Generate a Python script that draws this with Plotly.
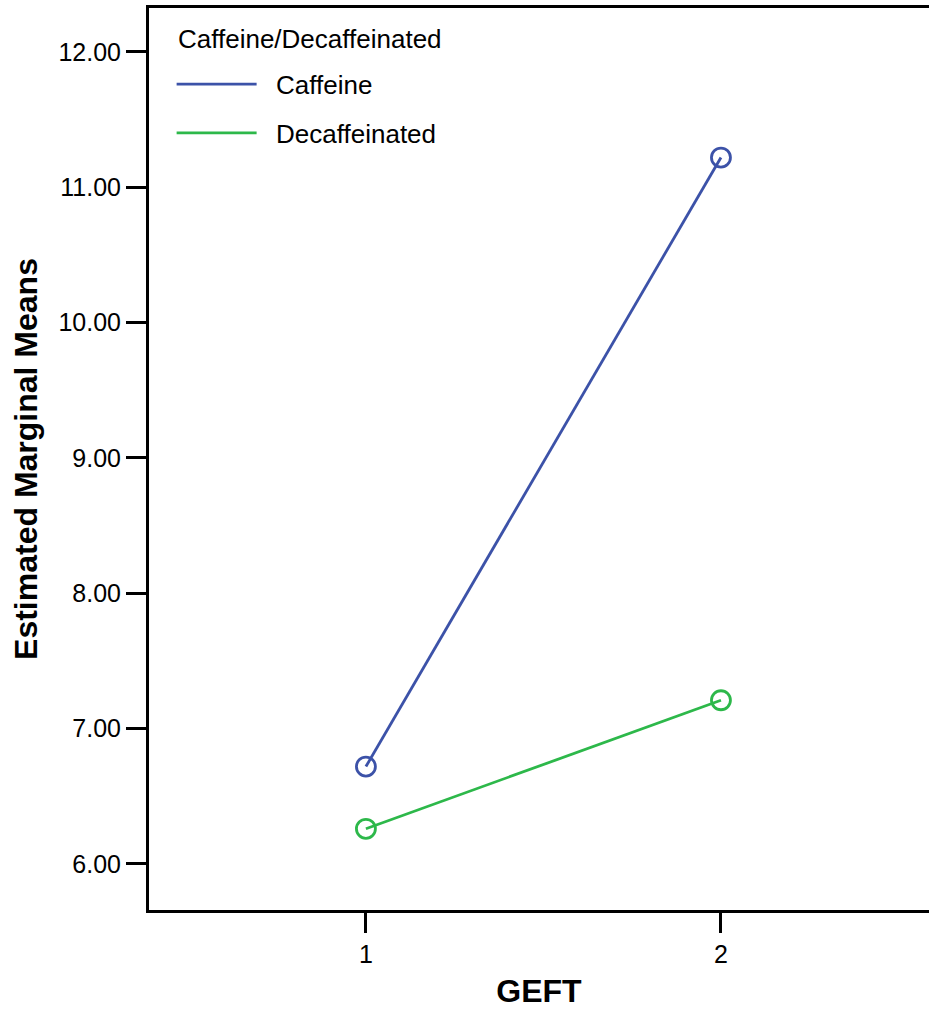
import plotly.graph_objects as go

geft = [1, 2]
caffeine = [6.72, 11.22]
decaf = [6.26, 7.21]
series_names = ["Caffeine", "Decaffeinated"]
legend_title = "Caffeine/Decaffeinated"
colors = ["#3c52a8", "#2db84a"]
y_ticks = [6, 7, 8, 9, 10, 11, 12]
y_tick_labels = ["6.00", "7.00", "8.00", "9.00", "10.00", "11.00", "12.00"]

fig = go.Figure()
for name, vals, col in zip(series_names, [caffeine, decaf], colors):
    fig.add_trace(go.Scatter(x=geft, y=vals, mode="lines", name="\u00a0\u00a0" + name,
                             legendgroup=name, line=dict(color=col, width=2.8)))
    fig.add_trace(go.Scatter(x=geft, y=vals, mode="markers", name=name, showlegend=False,
                             legendgroup=name,
                             marker=dict(symbol="circle-open", size=19, color=col,
                                         line=dict(width=2.8, color=col))))

font_family = "Liberation Sans, Arial, sans-serif"
fig.update_layout(
    width=929, height=1009,
    margin=dict(l=149, r=0, t=8, b=99),
    paper_bgcolor="white", plot_bgcolor="white",
    font=dict(family=font_family, color="black", size=25),
    showlegend=True,
    legend=dict(x=0.029, y=0.9416, xanchor="left", yanchor="top",
                font=dict(size=26), bgcolor="rgba(0,0,0,0)",
                itemwidth=80, tracegroupgap=12),
    annotations=[dict(text=legend_title, xref="paper", yref="paper", x=0.0346, y=0.9659,
                      xanchor="left", yanchor="middle", showarrow=False,
                      font=dict(size=26))],
    xaxis=dict(range=[0.389, 2.586], tickvals=geft, ticktext=["1", "2"],
               showgrid=False, zeroline=False, showline=True, linecolor="black",
               linewidth=3, mirror=True, ticks="outside", ticklen=20, tickwidth=3,
               tickcolor="black", tickfont=dict(size=25),
               title=dict(text="<b>GEFT</b>", font=dict(size=32), standoff=18)),
    yaxis=dict(range=[5.66, 12.325], tickvals=y_ticks, ticktext=y_tick_labels,
               showgrid=False, zeroline=False, showline=True, linecolor="black",
               linewidth=3, ticks="outside", ticklen=20, tickwidth=3,
               tickcolor="black", tickfont=dict(size=25),
               title=dict(text="<b>Estimated Marginal Means</b>", font=dict(size=32), standoff=12)),
)

fig.write_html("out.html", config={"displayModeBar": False},
               post_script="document.body.style.margin='0';")
